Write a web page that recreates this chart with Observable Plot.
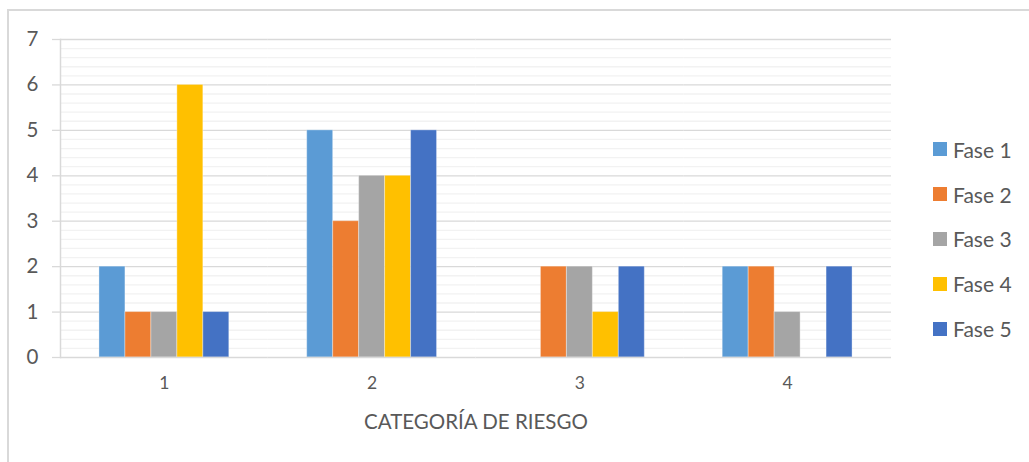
<!DOCTYPE html>
<html>
<head>
<meta charset="utf-8">
<script src="https://cdn.jsdelivr.net/npm/d3@7"></script>
<script src="https://cdn.jsdelivr.net/npm/@observablehq/plot@0.6"></script>
<style>
  html, body { margin: 0; padding: 0; background: #fff; overflow: hidden; }
  #wrap { position: relative; width: 1029px; height: 462px; font-family: Lato, "Open Sans", sans-serif; }
  #box { position: absolute; left: 7px; top: 9px; width: 1100px; height: 600px; border: 2px solid #d9d9d9; box-sizing: border-box; }
  #chart { position: absolute; left: 0; top: 0; }
  #legend { position: absolute; left: 933px; top: 127px; }
  .item { display: flex; align-items: center; height: 44.8px; font-size: 21px; color: #595959; }
  .sw { width: 14px; height: 14px; margin-right: 6px; }
  #chart g[aria-label="fx-axis label"] text { font-size: 20.5px; }
</style>
</head>
<body>
<div id="wrap">
  <div id="box"></div>
  <div id="chart"></div>
  <div id="legend"></div>
</div>
<script>
// Risk categories on the horizontal axis
const categories = ["1", "2", "3", "4"];
// Phases (one bar per phase inside each category)
const phases = ["Fase 1", "Fase 2", "Fase 3", "Fase 4", "Fase 5"];
// Counts per phase, ordered by category 1..4
const fase1 = [2, 5, 0, 2];
const fase2 = [1, 3, 2, 2];
const fase3 = [1, 4, 2, 1];
const fase4 = [6, 4, 1, 0];
const fase5 = [1, 5, 2, 2];
// Value axis tick labels
const yTicks = [0, 1, 2, 3, 4, 5, 6, 7];
// Phase colours
const phaseColors = ["#5B9BD5", "#ED7D31", "#A5A5A5", "#FFC000", "#4472C4"];

const series = [fase1, fase2, fase3, fase4, fase5];
const rows = categories.flatMap((c, i) =>
  phases.map((p, j) => ({ categoria: c, fase: p, valor: series[j][i] }))
);
// Minor gridlines every 0.2
const minorTicks = d3.range(0, 36).filter(i => i % 5 !== 0).map(i => i / 5);

const chart = Plot.plot({
  width: 1029,
  height: 462,
  marginLeft: 60,
  marginRight: 138,
  marginTop: 39,
  marginBottom: 105,
  style: { fontFamily: "Lato, 'Open Sans', sans-serif", background: "transparent", color: "#595959" },
  fx: { domain: categories, padding: 0, round: false },
  x: { domain: phases, paddingInner: 0, paddingOuter: 1.5, round: false, axis: null },
  y: { domain: [0, 7] },
  color: { domain: phases, range: phaseColors },
  marks: [
    Plot.ruleY(minorTicks, { stroke: "#f2f2f2", strokeWidth: 1.3 }),
    Plot.ruleY(yTicks.slice(1), { stroke: "#d9d9d9", strokeWidth: 1.3 }),
    Plot.frame({ anchor: "left", stroke: "#d9d9d9", strokeWidth: 1.5, facetAnchor: "left" }),
    Plot.barY(rows.filter(d => d.valor > 0), {
      fx: "categoria", x: "fase", y: "valor", fill: "fase",
      stroke: "#ffffff", strokeOpacity: 0.35, strokeWidth: 1
    }),
    Plot.ruleY([0], { stroke: "#d9d9d9", strokeWidth: 1.5 }),
    Plot.axisY({
      ticks: yTicks, tickFormat: d => String(d), tickSize: 8, tickPadding: 14,
      stroke: "#d9d9d9", fill: "#595959", fontSize: 20.5, label: null, strokeWidth: 1.3
    }),
    Plot.axisFx({
      anchor: "bottom", tickSize: 0, tickPadding: 19, fontSize: 17.5, fill: "#595959",
      label: "CATEGORÍA DE RIESGO", labelAnchor: "center", labelOffset: 71
    })
  ]
});
document.getElementById("chart").appendChild(chart);

// Legend on the right
const legend = d3.select("#legend");
phases.forEach((p, i) => {
  const item = legend.append("div").attr("class", "item");
  item.append("div").attr("class", "sw").style("background", phaseColors[i]);
  item.append("span").text(p);
});
</script>
</body>
</html>
